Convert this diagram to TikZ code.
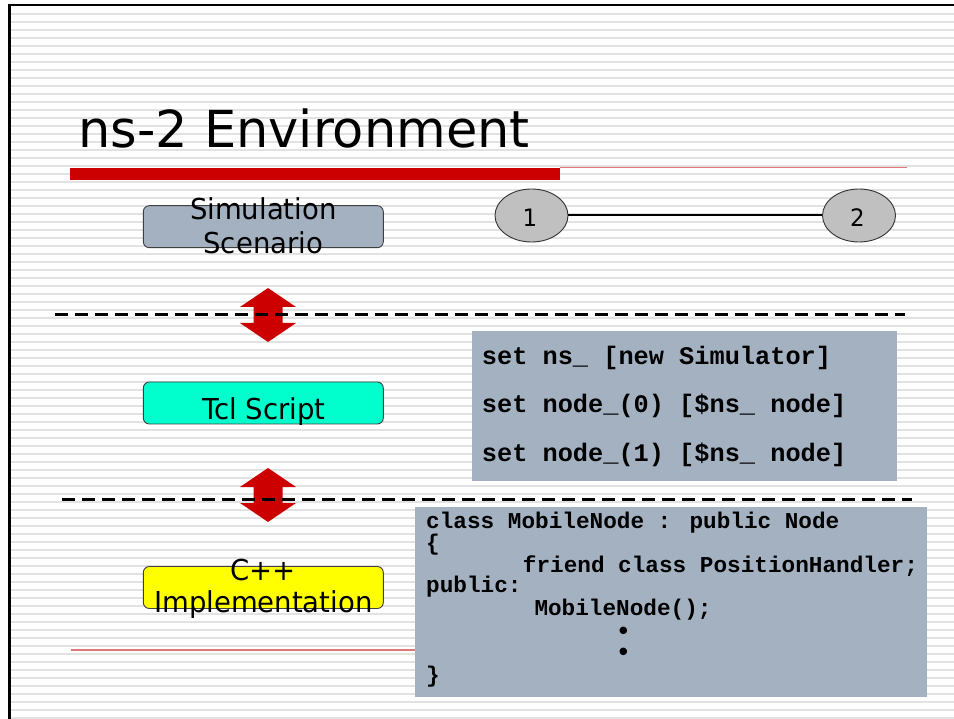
\documentclass[tikz,border=0pt]{standalone}
\usepackage{fontspec}
\setmainfont{DejaVu Sans}
\newfontfamily\boxfont{DejaVu Sans}[FakeStretch=0.955]
\newfontfamily\codefont{Liberation Mono}
\usetikzlibrary{shapes.geometric}
\definecolor{slate}{HTML}{A3B1C1}
\definecolor{aqua}{HTML}{00FFCC}
\definecolor{brightyellow}{HTML}{FFFF00}
\definecolor{barred}{HTML}{CC0000}
\definecolor{thinred}{HTML}{E07878}
\definecolor{stripegray}{HTML}{E2E2E2}
\definecolor{nodegray}{HTML}{C0C0C0}
\tikzset{
  layerbox/.style={draw=black!75, line width=0.9pt, rounded corners=6pt,
    minimum width=240pt, minimum height=42pt, inner sep=0pt},
  layertext/.style={inner sep=0pt, anchor=base,
    font=\boxfont\fontsize{28.8}{33}\selectfont},
  netnode/.style={ellipse, draw=black!80, line width=0.9pt, fill=nodegray,
    minimum width=73pt, minimum height=53pt, inner sep=0pt},
  netlabel/.style={inner sep=0pt, anchor=base,
    font=\boxfont\fontsize{24}{28}\selectfont},
  codebox/.style={fill=slate, inner sep=0pt},
  tclline/.style={inner sep=0pt, anchor=base west,
    font=\codefont\bfseries\fontsize{25.3}{28}\selectfont},
  cppline/.style={inner sep=0pt, anchor=base west,
    font=\codefont\bfseries\fontsize{22.7}{25}\selectfont},
  bulletmarks/.style={inner sep=0pt, anchor=north, align=center,
    font=\codefont\bfseries\fontsize{26}{21.6}\selectfont},
  separator/.style={line width=3pt, dash pattern=on 12.7pt off 7.3pt},
  dblarrow/.pic={
    \fill[barred] (0,-27) -- (28,-8) -- (14.5,-8) -- (14.5,8) -- (28,8)
      -- (0,27) -- (-28,8) -- (-14.5,8) -- (-14.5,-8) -- (-28,-8) -- cycle;
  }
}
\begin{document}
\begin{tikzpicture}[x=1pt,y=-1pt]
\useasboundingbox (0,0) rectangle (954,719);
\fill[white] (0,0) rectangle (954,719);
% striped background
\foreach \i in {0,...,88}
  \fill[stripegray] (9,{13.25+8*\i}) rectangle (954,{14.75+8*\i});
% frame
\draw[line width=2.8pt] (9.5,719) -- (9.5,5) -- (954,5);
% title and rules
\node[inner sep=0pt, anchor=base west, font=\fontsize{51}{60}\selectfont] (title) at (78,148) {ns-2 Environment};
\draw[thinred, line width=1.5pt] (560,167.5) -- (907,167.5);
\fill[barred] (70,168) rectangle (560,180);
\draw[thinred, line width=1.5pt] (71,650) -- (415,650);
% layer boxes
\node[layerbox, fill=slate] (sim) at (263.3,226.7) {};
\node[layertext] (simA) at (263.3,220) {Simulation};
\node[layertext] (simB) at (263.3,253.3) {Scenario};
\node[layerbox, fill=aqua] (tcl) at (263.3,403) {};
\node[layertext] (tcltext) at (264,419.3) {Tcl Script};
\node[layerbox, fill=brightyellow] (cpp) at (263.3,587.5) {};
\node[layertext] (cppA) at (263.3,580) {C++};
\node[layertext] (cppB) at (263.3,612.3) {Implementation};
% network
\node[netnode] (n1) at (531.5,215.5) {};
\node[netnode] (n2) at (859,215.5) {};
\node[netlabel] (n1l) at (530,226.5) {1};
\node[netlabel] (n2l) at (857.5,226.5) {2};
\draw[line width=2pt] (n1) -- (n2);
% red double arrows
\pic at (268,315) {dblarrow};
\pic at (268,495) {dblarrow};
% dashed separators
\draw[separator] (55,314.7) -- (905,314.7);
\draw[separator] (62,499.3) -- (912,499.3);
% Tcl code
\node[codebox, minimum width=424.2pt, minimum height=150pt] (tclcode) at (684.4,406) {};
\node[tclline] (t1) at (481.7,365) {set ns\_ [new Simulator]};
\node[tclline] (t2) at (481.7,413) {set node\_(0) [\$ns\_ node]};
\node[tclline] (t3) at (481.7,461) {set node\_(1) [\$ns\_ node]};
% C++ code
\node[codebox, minimum width=512pt, minimum height=190pt] (cppcode) at (671,602) {};
\node[cppline] (c1) at (426,528) {class MobileNode : public Node};
\node[cppline] (c2) at (426,550) {\{};
\node[cppline] (c3) at (522.7,572.5) {friend class PositionHandler;};
\node[cppline] (c4) at (426,592) {public:};
\node[cppline] (c5) at (534.3,615) {MobileNode();};
\node[bulletmarks] (c6) at (623.3,626.5) {•\\•};
\node[cppline] (c8) at (426,682) {\}};
\end{tikzpicture}
\end{document}
